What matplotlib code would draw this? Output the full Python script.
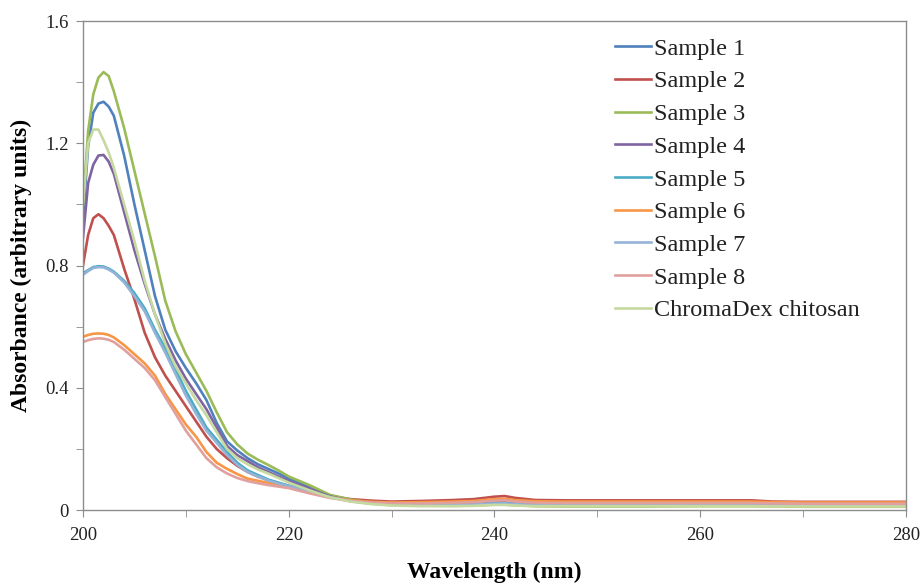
import matplotlib
matplotlib.use("Agg")
import matplotlib.pyplot as plt
from matplotlib.ticker import MultipleLocator

wavelength = [200, 200.5, 201, 201.5, 202, 202.5, 203, 204, 205, 206, 207, 208, 209, 210,
              211, 212, 213, 214, 215, 216, 217, 218, 219, 220, 222, 224, 226, 228, 230,
              233, 236, 238, 240, 241, 242, 244, 247, 250, 255, 260, 265, 267, 270, 275, 280]

sample1 = [0.95, 1.19, 1.30, 1.33, 1.336, 1.32, 1.29, 1.16, 1.00, 0.85, 0.70, 0.59, 0.52, 0.465,
           0.415, 0.36, 0.285, 0.225, 0.195, 0.17, 0.15, 0.135, 0.12, 0.103, 0.077, 0.048, 0.033, 0.025, 0.02,
           0.019, 0.019, 0.021, 0.025, 0.026, 0.023, 0.02, 0.02, 0.02, 0.02, 0.021, 0.021, 0.02, 0.019, 0.019, 0.019]
sample2 = [0.80, 0.90, 0.955, 0.968, 0.955, 0.93, 0.90, 0.79, 0.69, 0.58, 0.50, 0.44, 0.39, 0.34,
           0.29, 0.24, 0.20, 0.17, 0.145, 0.125, 0.11, 0.098, 0.088, 0.079, 0.061, 0.046, 0.036, 0.031, 0.028,
           0.030, 0.033, 0.036, 0.044, 0.046, 0.040, 0.033, 0.032, 0.032, 0.032, 0.032, 0.032, 0.028, 0.027, 0.027, 0.027]
sample3 = [1.00, 1.24, 1.36, 1.415, 1.433, 1.42, 1.37, 1.25, 1.11, 0.97, 0.83, 0.685, 0.585, 0.51,
           0.45, 0.39, 0.32, 0.255, 0.215, 0.185, 0.165, 0.148, 0.13, 0.11, 0.082, 0.05, 0.035, 0.024, 0.018,
           0.015, 0.014, 0.015, 0.018, 0.018, 0.016, 0.013, 0.012, 0.012, 0.012, 0.013, 0.013, 0.012, 0.011, 0.011, 0.011]
sample4 = [0.89, 1.07, 1.13, 1.16, 1.162, 1.14, 1.10, 0.975, 0.85, 0.74, 0.64, 0.56, 0.49, 0.43,
           0.38, 0.33, 0.27, 0.21, 0.18, 0.16, 0.14, 0.125, 0.11, 0.095, 0.07, 0.045, 0.03, 0.023, 0.02,
           0.019, 0.019, 0.021, 0.025, 0.026, 0.023, 0.02, 0.02, 0.02, 0.02, 0.02, 0.02, 0.019, 0.019, 0.019, 0.019]
sample5 = [0.775, 0.785, 0.795, 0.798, 0.797, 0.79, 0.78, 0.75, 0.71, 0.66, 0.59, 0.53, 0.46, 0.39,
           0.33, 0.27, 0.23, 0.19, 0.155, 0.13, 0.115, 0.10, 0.09, 0.08, 0.062, 0.043, 0.03, 0.022, 0.018,
           0.017, 0.017, 0.019, 0.022, 0.023, 0.02, 0.018, 0.018, 0.018, 0.018, 0.018, 0.018, 0.017, 0.017, 0.017, 0.017]
sample6 = [0.567, 0.573, 0.577, 0.578, 0.577, 0.573, 0.565, 0.54, 0.51, 0.48, 0.44, 0.38, 0.33, 0.28,
           0.24, 0.19, 0.155, 0.135, 0.118, 0.103, 0.096, 0.089, 0.081, 0.074, 0.058, 0.042, 0.032, 0.027, 0.025,
           0.026, 0.028, 0.030, 0.036, 0.037, 0.033, 0.029, 0.028, 0.028, 0.028, 0.028, 0.028, 0.026, 0.025, 0.025, 0.025]
sample7 = [0.77, 0.782, 0.792, 0.795, 0.794, 0.787, 0.777, 0.745, 0.70, 0.65, 0.58, 0.515, 0.445, 0.375,
           0.315, 0.26, 0.22, 0.18, 0.148, 0.125, 0.11, 0.097, 0.087, 0.078, 0.06, 0.042, 0.029, 0.021, 0.017,
           0.016, 0.016, 0.018, 0.021, 0.022, 0.019, 0.017, 0.017, 0.017, 0.017, 0.017, 0.017, 0.016, 0.016, 0.016, 0.016]
sample8 = [0.55, 0.556, 0.56, 0.562, 0.561, 0.557, 0.55, 0.525, 0.495, 0.465, 0.425, 0.37, 0.315, 0.26,
           0.215, 0.17, 0.14, 0.12, 0.105, 0.095, 0.088, 0.082, 0.077, 0.072, 0.055, 0.04, 0.03, 0.025, 0.022,
           0.022, 0.024, 0.026, 0.031, 0.032, 0.028, 0.024, 0.023, 0.023, 0.023, 0.023, 0.023, 0.022, 0.021, 0.021, 0.021]
chromadex = [1.00, 1.20, 1.245, 1.245, 1.21, 1.17, 1.12, 1.00, 0.88, 0.75, 0.64, 0.545, 0.47, 0.415,
             0.36, 0.31, 0.255, 0.20, 0.17, 0.15, 0.133, 0.12, 0.105, 0.09, 0.065, 0.042, 0.028, 0.02, 0.015,
             0.013, 0.013, 0.014, 0.017, 0.017, 0.015, 0.013, 0.013, 0.013, 0.013, 0.013, 0.013, 0.012, 0.012, 0.012, 0.012]

series_labels = ["Sample 1", "Sample 2", "Sample 3", "Sample 4", "Sample 5",
                 "Sample 6", "Sample 7", "Sample 8", "ChromaDex chitosan"]
series_values = [sample1, sample2, sample3, sample4, sample5, sample6, sample7, sample8, chromadex]
colors = ["#4F81BD", "#C0504D", "#9BBB59", "#8064A2", "#4BACC6",
          "#F79646", "#95B3D7", "#E0A09E", "#C6D9A0"]

plt.rcParams['font.family'] = ['Liberation Serif', 'DejaVu Serif']

fig = plt.figure(figsize=(9.21, 5.85), dpi=100)
ax = fig.add_axes([0.0901, 0.128, 0.8936, 0.836])

for lab, vals, c in zip(series_labels, series_values, colors):
    ax.plot(wavelength, vals, color=c, lw=1.9, label=lab, solid_joinstyle='round')

ax.set_xlim(200, 280)
ax.set_ylim(0, 1.6)
ax.xaxis.set_major_locator(MultipleLocator(20))
ax.xaxis.set_minor_locator(MultipleLocator(10))
ax.yaxis.set_minor_locator(MultipleLocator(0.2))
ax.set_yticks([0, 0.4, 0.8, 1.2, 1.6])
ax.set_yticklabels(["0", "0.4", "0.8", "1.2", "1.6"])

for s in ax.spines.values():
    s.set_color("#8c8c8c")
    s.set_linewidth(1.0)
ax.tick_params(which='both', direction='out', color="#8c8c8c", labelsize=13.5, labelcolor="#222222")
ax.tick_params(which='both', length=5)
ax.tick_params(axis='x', pad=7)
ax.tick_params(axis='y', pad=5)

ax.set_xlabel("Wavelength (nm)", fontsize=17, fontweight='bold', labelpad=13)
ax.set_ylabel("Absorbance (arbitrary units)", fontsize=17, fontweight='bold', labelpad=10)

leg = ax.legend(loc='upper left', bbox_to_anchor=(0.647, 0.966), frameon=False,
                fontsize=17.5, handlelength=1.45, handletextpad=0.12, labelspacing=0.44,
                borderaxespad=0.0, borderpad=0.0)
for t in leg.get_texts():
    t.set_color("#222222")

fig.savefig("out.png", dpi=100, facecolor='white')
